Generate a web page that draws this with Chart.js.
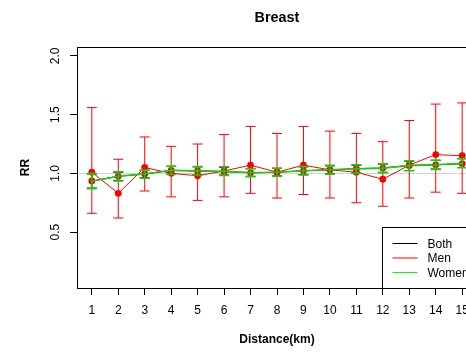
<!DOCTYPE html>
<html>
<head>
<meta charset="utf-8">
<title>Breast</title>
<script src="https://cdn.jsdelivr.net/npm/chart.js@4.4.1/dist/chart.umd.min.js"></script>
<style>
  html, body { margin: 0; padding: 0; background: #fff; overflow: hidden; }
  #wrap { width: 466px; height: 355px; overflow: hidden; }
  canvas { display: block; }
</style>
</head>
<body>
<div id="wrap"><canvas id="chart" width="500" height="355"></canvas></div>
<script>
// data
const chartTitle = 'Breast';
const distance = [1, 2, 3, 4, 5, 6, 7, 8, 9, 10, 11, 12, 13, 14, 15];
const yTicks = [0.5, 1.0, 1.5, 2.0];
const refValue = 1.0;

const bothRR   = [0.935, 0.975, 0.995, 1.025, 1.02, 1.015, 1.005, 1.01, 1.022, 1.03, 1.04, 1.045, 1.068, 1.073, 1.082];
const bothLow  = [0.875, 0.94, 0.962, 0.993, 0.989, 0.986, 0.975, 0.978, 0.989, 0.997, 1.003, 1.009, 1.025, 1.037, 1.05];
const bothHigh = [0.995, 1.01, 1.025, 1.058, 1.055, 1.052, 1.039, 1.042, 1.055, 1.064, 1.07, 1.079, 1.104, 1.11, 1.124];

const menRR   = [1.01, 0.83, 1.05, 1.00, 0.98, 1.02, 1.07, 1.01, 1.07, 1.03, 1.01, 0.95, 1.07, 1.16, 1.15];
const menLow  = [0.66, 0.62, 0.85, 0.80, 0.77, 0.80, 0.83, 0.79, 0.82, 0.79, 0.75, 0.72, 0.79, 0.84, 0.83];
const menHigh = [1.56, 1.12, 1.31, 1.23, 1.25, 1.33, 1.40, 1.34, 1.40, 1.36, 1.34, 1.27, 1.45, 1.59, 1.60];

const womenRR   = [0.933, 0.976, 0.995, 1.026, 1.022, 1.017, 1.006, 1.01, 1.022, 1.031, 1.038, 1.045, 1.066, 1.073, 1.085];
const womenLow  = [0.87, 0.935, 0.958, 0.99, 0.986, 0.983, 0.972, 0.975, 0.986, 0.994, 1.0, 1.006, 1.022, 1.034, 1.048];
const womenHigh = [0.998, 1.014, 1.028, 1.062, 1.059, 1.056, 1.042, 1.045, 1.059, 1.068, 1.073, 1.082, 1.107, 1.113, 1.127];

const FONT = '"Liberation Sans", Arial, Helvetica, sans-serif';
const GREEN = '#10d010';

function pts(ys) {
    return distance.map((x, i) => ({ x: x, y: ys[i] }));
}

// vertical error bars with caps, drawn right after their own dataset
const errorBars = {
    id: 'errorBars',
    afterDatasetDraw(chart, args) {
        const ds = chart.data.datasets[args.index];
        if (!ds.low) return;
        const { ctx, chartArea, scales } = chart;
        ctx.save();
        ctx.beginPath();
        ctx.rect(chartArea.left, chartArea.top, chartArea.right - chartArea.left, chartArea.bottom - chartArea.top);
        ctx.clip();
        ctx.strokeStyle = ds.barColor;
        ctx.lineWidth = ds.barWidth;
        distance.forEach((d, i) => {
            const x = scales.x.getPixelForValue(d);
            const y1 = scales.y.getPixelForValue(ds.low[i]);
            const y2 = scales.y.getPixelForValue(ds.high[i]);
            ctx.beginPath();
            ctx.moveTo(x, y1);
            ctx.lineTo(x, y2);
            ctx.moveTo(x - 5, y1);
            ctx.lineTo(x + 5, y1);
            ctx.moveTo(x - 5, y2);
            ctx.lineTo(x + 5, y2);
            ctx.stroke();
        });
        ctx.restore();
    }
};

// box, reference line, title and legend in R style
const rDecor = {
    id: 'rDecor',
    beforeDatasetsDraw(chart) {
        const { ctx, chartArea, scales } = chart;
        const y = Math.round(scales.y.getPixelForValue(refValue)) + 0.5;
        ctx.save();
        ctx.strokeStyle = '#d3d3d3';
        ctx.lineWidth = 1;
        ctx.beginPath();
        ctx.moveTo(chartArea.left, y);
        ctx.lineTo(chartArea.right, y);
        ctx.stroke();
        ctx.strokeStyle = '#000';
        ctx.strokeRect(chartArea.left + 0.5, chartArea.top + 0.5, chartArea.right - chartArea.left, chartArea.bottom - chartArea.top);
        ctx.restore();
    },
    afterDraw(chart) {
        const { ctx, chartArea } = chart;
        ctx.save();
        ctx.fillStyle = '#000';
        ctx.font = 'bold 14.4px ' + FONT;
        ctx.textAlign = 'center';
        ctx.textBaseline = 'middle';
        ctx.fillText(chartTitle, (chartArea.left + chartArea.right) / 2, 18);

        // legend, bottom right inside the plot
        const w = 95, h = 61;
        const lx = Math.round(chartArea.right - w) + 0.5;
        const ly = Math.round(chartArea.bottom - h) + 0.5;
        ctx.fillStyle = '#fff';
        ctx.fillRect(lx, ly, w, h);
        ctx.strokeStyle = '#000';
        ctx.lineWidth = 1;
        ctx.strokeRect(lx, ly, w, h);
        ctx.font = '12px ' + FONT;
        ctx.textAlign = 'left';
        chart.data.datasets.forEach((ds, i) => {
            const yy = ly + 16 + i * 14.5;
            ctx.strokeStyle = ds.legendColor;
            ctx.beginPath();
            ctx.moveTo(lx + 10, yy);
            ctx.lineTo(lx + 35, yy);
            ctx.stroke();
            ctx.fillStyle = '#000';
            ctx.fillText(ds.label, lx + 45, yy + 1);
        });
        ctx.restore();
    }
};

new Chart(document.getElementById('chart'), {
    type: 'line',
    data: {
        datasets: [
            {
                label: 'Both',
                data: pts(bothRR),
                low: bothLow, high: bothHigh,
                borderColor: '#000', borderWidth: 1,
                pointRadius: 3.4, pointBackgroundColor: 'red', pointBorderColor: 'red', pointBorderWidth: 0,
                barColor: '#000', barWidth: 1, legendColor: '#000',
                order: 3
            },
            {
                label: 'Men',
                data: pts(menRR),
                low: menLow, high: menHigh,
                borderColor: 'red', borderWidth: 1,
                pointRadius: 3.4, pointBackgroundColor: 'red', pointBorderColor: 'red', pointBorderWidth: 0,
                barColor: 'red', barWidth: 1, legendColor: 'red',
                order: 2
            },
            {
                label: 'Women',
                data: pts(womenRR),
                low: womenLow, high: womenHigh,
                borderColor: GREEN, borderWidth: 1.6,
                pointRadius: 0,
                barColor: GREEN, barWidth: 1.6, legendColor: '#00ff00',
                order: 1
            }
        ]
    },
    options: {
        responsive: false,
        animation: false,
        layout: { padding: { top: 47, right: 23, bottom: 0, left: 0 } },
        plugins: { legend: { display: false }, tooltip: { enabled: false } },
        scales: {
            x: {
                type: 'linear',
                min: 0.44,
                max: 15.56,
                afterBuildTicks: s => { s.ticks = distance.map(v => ({ value: v })); },
                afterFit: s => { s.height = 67; },
                ticks: { color: '#000', font: { family: FONT, size: 12 }, padding: 8, autoSkip: false, maxRotation: 0,
                         callback: v => String(v) },
                grid: { display: true, drawOnChartArea: false, drawTicks: true, tickLength: 7, color: '#000' },
                border: { display: true, color: '#000' },
                title: { display: true, text: 'Distance(km)', color: '#000',
                         font: { family: FONT, size: 12, weight: 'bold' }, padding: { top: 0, bottom: 8 } }
            },
            y: {
                min: 0.024,
                max: 2.076,
                afterBuildTicks: s => { s.ticks = yTicks.map(v => ({ value: v })); },
                afterFit: s => { s.width = 77; },
                ticks: { color: '#000', font: { family: FONT, size: 12 }, padding: 6, minRotation: 90, maxRotation: 90,
                         crossAlign: 'center', callback: v => v.toFixed(1) },
                grid: { display: true, drawOnChartArea: false, drawTicks: true, tickLength: 7, color: '#000' },
                border: { display: true, color: '#000' },
                title: { display: true, text: 'RR', color: '#000',
                         font: { family: FONT, size: 12, weight: 'bold' }, padding: { top: 18, bottom: 0 } }
            }
        }
    },
    plugins: [errorBars, rDecor]
});
</script>
</body>
</html>
